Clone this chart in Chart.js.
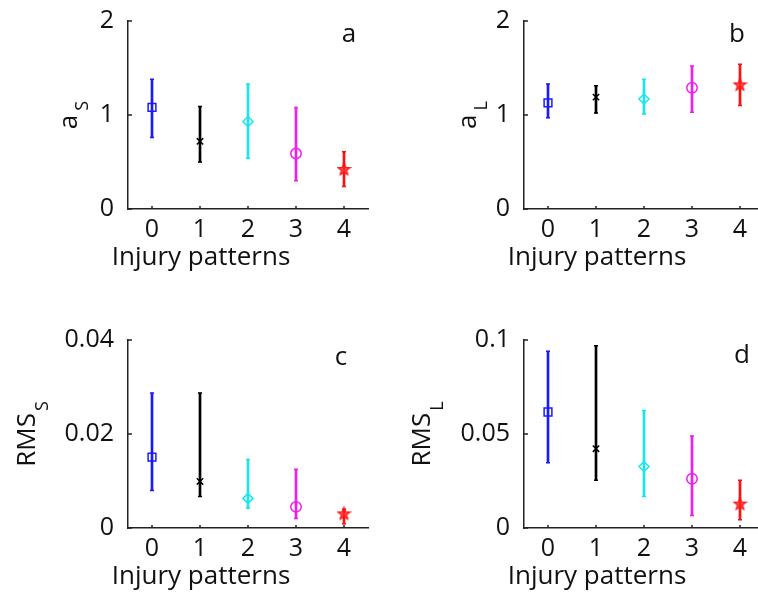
<!DOCTYPE html>
<html>
<head>
<meta charset="utf-8">
<script src="https://cdn.jsdelivr.net/npm/chart.js@4"></script>
<style>
html,body{margin:0;padding:0;background:#fff;width:758px;height:597px;overflow:hidden;position:relative}
canvas{position:absolute}
</style>
</head>
<body>
<canvas id="pa" width="380" height="290" style="left:0;top:0"></canvas>
<canvas id="pb" width="380" height="290" style="left:396px;top:0"></canvas>
<canvas id="pc" width="380" height="278" style="left:0;top:319px"></canvas>
<canvas id="pd" width="380" height="278" style="left:396px;top:319px"></canvas>
<script>
// injury pattern categories and marker colours (MATLAB-ish)
const PATTERNS=['0','1','2','3','4'];
const COLORS=['#1a1aff','#000000','#19e6ec','#f01cf0','#ff1010'];

// a_S
const AS_MEAN=[1.08,0.72,0.93,0.59,0.42];
const AS_LOW=[0.76,0.50,0.54,0.30,0.24];
const AS_HIGH=[1.38,1.09,1.33,1.08,0.61];
// a_L
const AL_MEAN=[1.13,1.19,1.17,1.29,1.32];
const AL_LOW=[0.97,1.02,1.01,1.03,1.10];
const AL_HIGH=[1.33,1.31,1.38,1.52,1.54];
// RMS_S
const RMSS_MEAN=[0.0151,0.0099,0.0063,0.0045,0.0030];
const RMSS_LOW=[0.0080,0.0067,0.0042,0.0020,0.0009];
const RMSS_HIGH=[0.0287,0.0287,0.0146,0.0125,0.0040];
// RMS_L
const RMSL_MEAN=[0.0617,0.0422,0.0327,0.0262,0.0127];
const RMSL_LOW=[0.0347,0.0254,0.0167,0.0066,0.0044];
const RMSL_HIGH=[0.094,0.097,0.0625,0.049,0.0254];

const A_TICKS=[0,1,2];
const RMSS_TICKS=[0,0.02,0.04];
const RMSL_TICKS=[0,0.05,0.1];

const FONT='"Open Sans"';

function starMarker(color){
  const c=document.createElement('canvas');c.width=c.height=15;
  const g=c.getContext('2d');g.beginPath();
  for(let k=0;k<10;k++){const r=k%2?2.7:6.3,t=-Math.PI/2+k*Math.PI/5;g.lineTo(7.5+r*Math.cos(t),7.5+r*Math.sin(t));}
  g.closePath();g.fillStyle='rgba(255,40,40,0.75)';g.fill();
  g.strokeStyle=color;g.lineWidth=1.3;g.stroke();
  return c;
}
const MARKERS=['rect','crossRot','rectRot','circle',starMarker('#ff1010')];
const SIZES=[5.5,4.5,5,5.2,6];

const panelText={id:'panelText',afterDraw(chart,args,o){
  const ctx=chart.ctx,a=chart.chartArea,x=chart.scales.x,y=chart.scales.y;
  ctx.save();
  ctx.strokeStyle='#222';ctx.lineWidth=1.5;ctx.beginPath();
  y.ticks.forEach(t=>{const py=y.getPixelForValue(t.value);ctx.moveTo(a.left,py);ctx.lineTo(a.left+4,py);});
  PATTERNS.forEach((p,i)=>{const px=x.getPixelForValue(i);ctx.moveTo(px,a.bottom);ctx.lineTo(px,a.bottom-3);});
  ctx.stroke();
  ctx.fillStyle='#111';ctx.textBaseline='alphabetic';ctx.textAlign='center';
  ctx.font='26px '+FONT;ctx.fillText('Injury patterns',a.left+73,a.bottom+56);
  ctx.font='26px '+FONT;ctx.fillText(o.letter,o.letterX,o.letterY);
  ctx.font='26px '+FONT;const wm=ctx.measureText(o.main).width;
  ctx.font='18px '+FONT;const ws=ctx.measureText(o.sub).width;
  const total=wm+o.gap+ws,mid=(a.top+a.bottom)/2;
  ctx.translate(a.left-o.labelDx,mid+total/2);ctx.rotate(-Math.PI/2);
  ctx.textAlign='left';
  ctx.font='26px '+FONT;ctx.fillText(o.main,0,0);
  ctx.font='18px '+FONT;ctx.fillText(o.sub,wm+o.gap,o.subDrop);
  ctx.restore();
}};

function makePanel(id,mean,low,high,yTicks,o){
  const tickFont={family:FONT,size:25};
  new Chart(document.getElementById(id),{
    type:'bar',
    data:{labels:PATTERNS,datasets:[
      {type:'line',data:mean,showLine:false,order:0,pointStyle:MARKERS,pointRadius:SIZES,
        pointBorderColor:COLORS,pointBackgroundColor:'rgba(0,0,0,0)',pointBorderWidth:1.5},
      {type:'line',data:high,showLine:false,order:1,pointStyle:'line',pointRadius:2,
        pointBorderColor:COLORS,pointBorderWidth:1.5},
      {type:'line',data:low,showLine:false,order:1,pointStyle:'line',pointRadius:2,
        pointBorderColor:COLORS,pointBorderWidth:1.5},
      {type:'bar',data:low.map((v,i)=>[v,high[i]]),order:2,backgroundColor:COLORS,
        barThickness:2,borderWidth:0}
    ]},
    options:{responsive:false,animation:false,events:[],
      layout:{padding:{top:17,right:12,left:0,bottom:0}},
      plugins:{legend:{display:false},tooltip:{enabled:false},panelText:o},
      scales:{
        x:{type:'category',offset:true,grid:{display:false},border:{color:'#222',width:1.5},
          ticks:{font:tickFont,color:'#111',padding:-2,maxRotation:0},
          afterFit:s=>{s.height=chartH(id)-209;}},
        y:{min:0,max:yTicks[yTicks.length-1],grid:{display:false},border:{color:'#222',width:1.5},
          afterBuildTicks:s=>{s.ticks=yTicks.map(v=>({value:v}));},
          ticks:{font:tickFont,color:'#111',padding:6,callback:v=>String(v)},
          afterFit:s=>{s.width=128;}}
      }},
    plugins:[panelText]
  });
}
function chartH(id){return document.getElementById(id).height;}

makePanel('pa',AS_MEAN,AS_LOW,AS_HIGH,A_TICKS,{main:'a',sub:'S',gap:4,subDrop:11,labelDx:51,letter:'a',letterX:349,letterY:42});
makePanel('pb',AL_MEAN,AL_LOW,AL_HIGH,A_TICKS,{main:'a',sub:'L',gap:4,subDrop:11,labelDx:48,letter:'b',letterX:341,letterY:42});
makePanel('pc',RMSS_MEAN,RMSS_LOW,RMSS_HIGH,RMSS_TICKS,{main:'RMS',sub:'S',gap:2,subDrop:13,labelDx:93,letter:'c',letterX:341,letterY:46});
makePanel('pd',RMSL_MEAN,RMSL_LOW,RMSL_HIGH,RMSL_TICKS,{main:'RMS',sub:'L',gap:2,subDrop:13,labelDx:94,letter:'d',letterX:346,letterY:44});
</script>
</body>
</html>
